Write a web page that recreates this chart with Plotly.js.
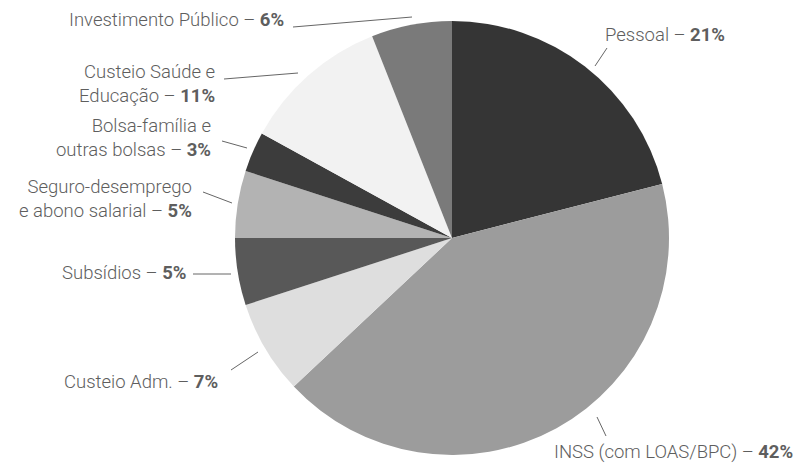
<!DOCTYPE html>
<html>
<head>
<meta charset="utf-8">
<script src="https://cdn.plot.ly/plotly-3.0.1.min.js"></script>
<style>html,body{margin:0;padding:0;background:#fff;}#chart{width:798px;height:463px;}</style>
</head>
<body>
<div id="chart"></div>
<script>
// Data
const categories = ["Pessoal", "INSS (com LOAS/BPC)", "Custeio Adm.", "Subsídios",
  "Seguro-desemprego e abono salarial", "Bolsa-família e outras bolsas",
  "Custeio Saúde e Educação", "Investimento Público"];
const values = [21, 42, 7, 5, 5, 3, 11, 6];
const labelTexts = ["Pessoal – ", "INSS (com LOAS/BPC) – ", "Custeio Adm. – ", "Subsídios – ",
  "Seguro-desemprego<br>e abono salarial – ", "Bolsa-família e<br>outras bolsas – ",
  "Custeio Saúde e<br>Educação – ", "Investimento Público – "];
const colors = ["#353535", "#9c9c9c", "#dedede", "#585858", "#b3b3b3", "#3c3c3c", "#f2f2f2", "#7a7a7a"];

// layout helpers (pixel -> paper)
const W = 798, H = 463;
const px = x => x / W, py = y => 1 - y / H;
const cx = 452, cy = 238, R = 217;

// label anchor positions (pixels) and leader lines
const labelPos = [
  {x: 603, y: 35, anchor: "left"},
  {x: 552, y: 452, anchor: "left"},
  {x: 220, y: 382, anchor: "right"},
  {x: 188, y: 273, anchor: "right"},
  {x: 194, y: 199, anchor: "right"},
  {x: 213, y: 138, anchor: "right"},
  {x: 217, y: 84, anchor: "right"},
  {x: 286, y: 20, anchor: "right"}
];
const leaders = [
  [607, 48, 595, 66],
  [597, 417, 606, 436],
  [231, 370, 258, 352],
  [193, 274, 231, 274],
  [203, 192, 232, 203],
  [222, 141, 247, 148],
  [224, 79, 298, 73],
  [293, 27, 412, 17]
];

const annotations = categories.map((c, i) => ({
  xref: "paper", yref: "paper",
  x: px(labelPos[i].x), y: py(labelPos[i].y),
  xanchor: labelPos[i].anchor, yanchor: "middle",
  align: labelPos[i].anchor,
  text: labelTexts[i] + "<b>" + values[i] + "%</b>",
  showarrow: false,
  font: {family: "Roboto, 'Liberation Sans', sans-serif", size: 18.5, color: "#5e5e5e", weight: 300}
}));

const shapes = leaders.map(l => ({
  type: "line", xref: "paper", yref: "paper",
  x0: px(l[0]), y0: py(l[1]), x1: px(l[2]), y1: py(l[3]),
  line: {color: "#666", width: 1}
}));

const trace = {
  type: "pie",
  labels: categories,
  values: values,
  sort: false,
  direction: "clockwise",
  rotation: 0,
  textinfo: "none",
  hoverinfo: "label+percent",
  marker: {colors: colors, line: {width: 0}},
  domain: {x: [px(cx - R), px(cx + R)], y: [py(cy + R), py(cy - R)]},
  showlegend: false
};

Plotly.newPlot("chart", [trace], {
  width: W, height: H,
  margin: {l: 0, r: 0, t: 0, b: 0},
  paper_bgcolor: "#fff",
  showlegend: false,
  annotations: annotations,
  shapes: shapes
}, {displayModeBar: false, staticPlot: true});
</script>
</body>
</html>
